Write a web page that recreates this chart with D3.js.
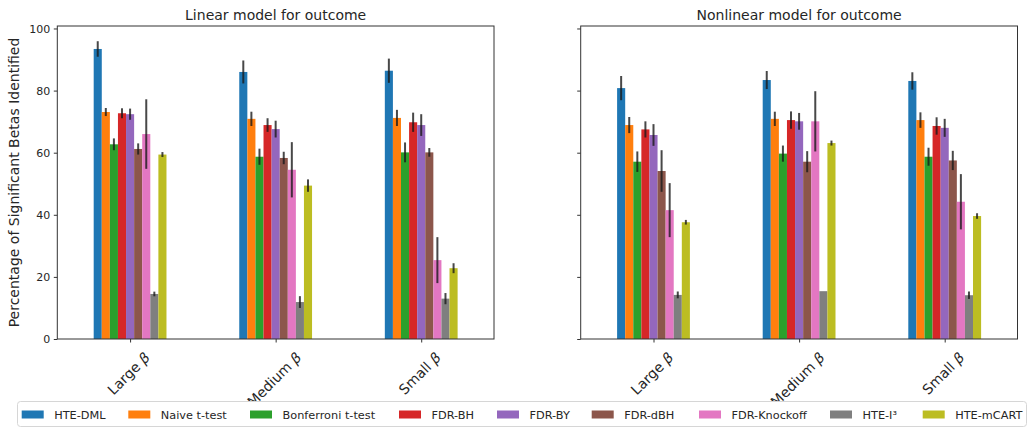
<!DOCTYPE html>
<html>
<head>
<meta charset="utf-8">
<script src="https://cdn.jsdelivr.net/npm/d3@7"></script>
<style>
  html, body { margin: 0; padding: 0; background: #fff; }
  svg { display: block; font-family: "DejaVu Sans", sans-serif; }
</style>
</head>
<body>
<svg id="chart" width="1028" height="428"></svg>
<script>
// ---------- data ----------
const categories = ["Large β", "Medium β", "Small β"];
const methods = ["HTE-DML", "Naive t-test", "Bonferroni t-test", "FDR-BH", "FDR-BY",
                 "FDR-dBH", "FDR-Knockoff", "HTE-I³", "HTE-mCART"];
const colors = ["#1f77b4", "#ff7f0e", "#2ca02c", "#d62728", "#9467bd",
                "#8c564b", "#e377c2", "#7f7f7f", "#bcbd22"];
const panelTitles = ["Linear model for outcome", "Nonlinear model for outcome"];
const yTicks = [0, 20, 40, 60, 80, 100];

// values per category (rows) per method (columns)
const linearMeans = [
  [93.4, 73.1, 62.7, 72.7, 72.4, 61.2, 66.0, 14.5, 59.4],
  [86.0, 70.9, 58.7, 68.9, 67.6, 58.3, 54.5, 11.9, 49.4],
  [86.4, 71.2, 60.1, 69.8, 68.9, 60.1, 25.4, 13.0, 22.8]
];
const linearErrs = [
  [2.5, 1.3, 1.9, 1.6, 1.8, 1.8, 11.2, 0.75, 0.8],
  [3.7, 2.3, 2.6, 2.2, 2.7, 2.0, 8.9, 1.9, 2.0],
  [3.9, 2.6, 3.2, 3.1, 3.5, 1.4, 7.4, 1.8, 1.6]
];
const nonlinearMeans = [
  [80.8, 68.9, 57.1, 67.5, 65.7, 54.1, 41.5, 14.2, 37.6],
  [83.4, 70.9, 59.7, 70.5, 70.1, 57.1, 70.1, 15.4, 63.1],
  [83.1, 70.5, 58.7, 68.6, 68.0, 57.5, 44.2, 14.1, 39.6]
];
const nonlinearErrs = [
  [3.9, 2.6, 3.3, 2.6, 3.5, 6.7, 8.7, 1.1, 0.75],
  [2.9, 2.3, 2.6, 2.8, 2.7, 3.4, 9.7, 0.0, 0.8],
  [2.8, 2.5, 2.9, 2.8, 2.9, 3.1, 8.9, 1.2, 0.9]
];

// ---------- layout ----------
const svg = d3.select("#chart");
const plotTop = 26, plotBottom = 339;
const panels = [
  { left: 57.3, right: 494, means: linearMeans, errs: linearErrs, title: panelTitles[0], labels: true },
  { left: 580.7, right: 1017.5, means: nonlinearMeans, errs: nonlinearErrs, title: panelTitles[1], labels: false }
];
const y = d3.scaleLinear().domain([0, 100.8]).range([plotBottom, plotTop]);
const textColor = "#262626";
const spineColor = "#333";

panels.forEach(p => {
  const g = svg.append("g");
  const x = d3.scaleLinear().domain([-0.5, 2.5]).range([p.left, p.right]);
  const unit = x(1) - x(0);
  const barW = unit * 0.5 / methods.length;

  categories.forEach((c, ci) => {
    methods.forEach((m, mi) => {
      const cx = x(ci) - 0.25 * unit + (mi + 0.5) * barW;
      const v = p.means[ci][mi];
      g.append("rect")
        .attr("x", cx - barW / 2)
        .attr("y", y(v))
        .attr("width", barW)
        .attr("height", y(0) - y(v))
        .attr("fill", colors[mi]);
    });
  });
  categories.forEach((c, ci) => {
    methods.forEach((m, mi) => {
      const cx = x(ci) - 0.25 * unit + (mi + 0.5) * barW;
      const v = p.means[ci][mi], e = p.errs[ci][mi];
      if (e > 0) {
        g.append("line")
          .attr("x1", cx).attr("x2", cx)
          .attr("y1", y(v - e)).attr("y2", y(v + e))
          .attr("stroke", "#1a1a1a")
          .attr("stroke-width", 2)
          .attr("stroke-opacity", 0.8);
      }
    });
  });

  g.append("rect")
    .attr("x", p.left).attr("y", plotTop)
    .attr("width", p.right - p.left).attr("height", plotBottom - plotTop)
    .attr("fill", "none").attr("stroke", spineColor).attr("stroke-width", 1);

  const yAxis = d3.axisLeft(y).tickValues(yTicks).tickSize(3.5).tickPadding(3.5)
    .tickFormat(p.labels ? d3.format("d") : () => "");
  const ya = g.append("g").attr("transform", `translate(${p.left},0)`).call(yAxis);
  ya.select(".domain").remove();
  ya.selectAll("line").attr("stroke", spineColor);
  ya.selectAll("text").attr("fill", textColor).style("font-size", "11px")
    .style("font-family", "DejaVu Sans, sans-serif");

  const xa = g.append("g").attr("transform", `translate(0,${plotBottom})`)
    .call(d3.axisBottom(x).tickValues([0, 1, 2]).tickSize(3.5).tickFormat(() => ""));
  xa.select(".domain").remove();
  xa.selectAll("line").attr("stroke", spineColor);

  categories.forEach((c, ci) => {
    const parts = c.split(" ");
    const t = g.append("text")
      .attr("text-anchor", "middle")
      .attr("dominant-baseline", "central")
      .attr("fill", textColor)
      .style("font-size", "14px");
    t.append("tspan").text(parts[0] + " ");
    t.append("tspan").style("font-style", "italic").text(parts[1]);
    const L = t.node().getComputedTextLength();
    const h = 11;
    const H = (L + h) * Math.SQRT1_2;
    t.attr("transform", `translate(${x(ci) - 1.5},${plotBottom + 12 + H / 2}) rotate(-45)`);
  });

  g.append("text")
    .attr("x", (p.left + p.right) / 2)
    .attr("y", 20)
    .attr("text-anchor", "middle")
    .attr("fill", textColor)
    .style("font-size", "14px")
    .text(p.title);
});

svg.append("text")
  .attr("transform", `translate(19,${(plotTop + plotBottom) / 2}) rotate(-90)`)
  .attr("text-anchor", "middle")
  .attr("fill", textColor)
  .style("font-size", "14px")
  .text("Percentage of Significant Betas Identified");

const legendX = [21.7, 128.3, 250, 399, 497, 591.7, 699, 830, 922.7];
const lg = svg.append("g");
lg.append("rect")
  .attr("x", 17.5).attr("y", 401.5)
  .attr("width", 1009).attr("height", 25)
  .attr("rx", 3).attr("ry", 3)
  .attr("fill", "#fff").attr("stroke", "#d6d6d6").attr("stroke-width", 1);
methods.forEach((m, i) => {
  lg.append("rect")
    .attr("x", legendX[i]).attr("y", 410.5)
    .attr("width", 22).attr("height", 8)
    .attr("fill", colors[i]);
  lg.append("text")
    .attr("x", legendX[i] + 32.5).attr("y", 418.5)
    .attr("fill", textColor)
    .style("font-size", "11.3px")
    .text(m);
});
</script>
</body>
</html>
